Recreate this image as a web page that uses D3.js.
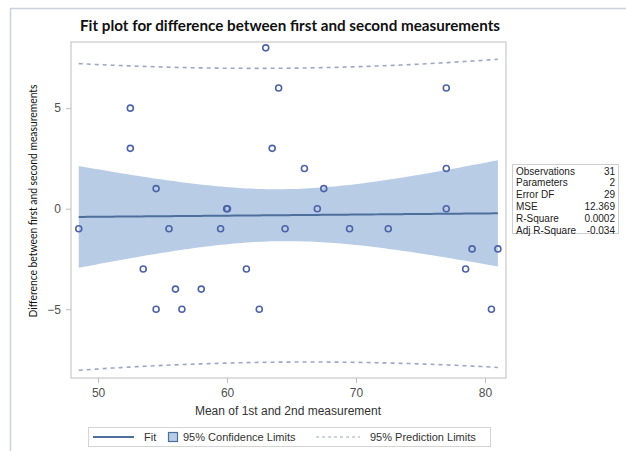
<!DOCTYPE html>
<html>
<head>
<meta charset="utf-8">
<script src="https://cdn.jsdelivr.net/npm/d3@7"></script>
<style>
  html, body { margin: 0; padding: 0; background: #fff; }
  svg { display: block; }
</style>
</head>
<body>
<svg id="chart" width="626" height="451"></svg>
<script>
// Observed pairs: mean of the two measurements (x) and their difference (y)
const meanValues = [63, 64, 52.5, 52.5, 63.5, 66, 54.5, 59.97, 60.03, 48.5, 55.5, 59.5, 64.5,
  53.5, 56, 58, 54.5, 56.5, 61.5, 62.5, 77, 77, 67.5, 67, 77, 69.5, 72.5, 79, 81, 78.5, 80.5];
const diffValues = [8, 6, 5, 3, 3, 2, 1, 0, 0, -1, -1, -1, -1,
  -3, -4, -4, -5, -5, -3, -5, 6, 2, 1, 0, 0, -1, -1, -2, -2, -3, -5];

const xTicks = [50, 60, 70, 80];
const yTicks = [-5, 0, 5];

// Fit statistics panel
const statLabels = ["Observations", "Parameters", "Error DF", "MSE", "R-Square", "Adj R-Square"];
const statValues = ["31", "2", "29", "12.369", "0.0002", "-0.034"];

const legendLabels = ["Fit", "95% Confidence Limits", "95% Prediction Limits"];

// Student t quantile, 0.975, 29 df
const tCrit = 2.04523;

const svg = d3.select("#chart");
const plot = { left: 71, top: 42, right: 506, bottom: 378 };

const x = d3.scaleLinear().domain([47.9, 81.63]).range([plot.left, plot.right]);
const y = d3.scaleLinear().domain([-8.42, 8.29]).range([plot.bottom, plot.top]);

// Least-squares fit
const n = meanValues.length;
const xbar = d3.mean(meanValues), ybar = d3.mean(diffValues);
let sxx = 0, sxy = 0;
meanValues.forEach((v, i) => { sxx += (v - xbar) ** 2; sxy += (v - xbar) * (diffValues[i] - ybar); });
const slope = sxy / sxx, intercept = ybar - slope * xbar;
let sse = 0;
meanValues.forEach((v, i) => { sse += (diffValues[i] - intercept - slope * v) ** 2; });
const mse = sse / (n - 2);

const [xmin, xmax] = d3.extent(meanValues);
const grid = d3.range(0, 101).map(k => xmin + (xmax - xmin) * k / 100);
const fitRows = grid.map(g => {
  const yhat = intercept + slope * g;
  const h = 1 / n + (g - xbar) ** 2 / sxx;
  const clm = tCrit * Math.sqrt(mse * h);
  const cli = tCrit * Math.sqrt(mse * (1 + h));
  return { x: g, yhat, lclm: yhat - clm, uclm: yhat + clm, lcl: yhat - cli, ucl: yhat + cli };
});

// Page frame lines
svg.append("line").attr("x1", 10).attr("x2", 626).attr("y1", 8.5).attr("y2", 8.5)
  .attr("stroke", "#c9d2de").attr("stroke-width", 1.5);
svg.append("line").attr("x1", 10.5).attr("x2", 10.5).attr("y1", 8).attr("y2", 451)
  .attr("stroke", "#c9d2de").attr("stroke-width", 1.5);

// Title
svg.append("text").attr("x", 290).attr("y", 31).attr("text-anchor", "middle")
  .attr("font-family", "Lato, 'Open Sans', sans-serif").attr("font-weight", "bold")
  .attr("font-size", 15).attr("fill", "#111")
  .attr("textLength", 420).attr("lengthAdjust", "spacingAndGlyphs")
  .text("Fit plot for difference between first and second measurements");

// Confidence band
svg.append("path").datum(fitRows)
  .attr("d", d3.area().x(d => x(d.x)).y0(d => y(d.lclm)).y1(d => y(d.uclm)))
  .attr("fill", "#b8cce6");

// Prediction limits
["lcl", "ucl"].forEach(k => {
  svg.append("path").datum(fitRows)
    .attr("d", d3.line().x(d => x(d.x)).y(d => y(d[k])))
    .attr("fill", "none").attr("stroke", "#9ea7c2").attr("stroke-width", 1.6)
    .attr("stroke-dasharray", "4,4");
});

// Fitted line
svg.append("path").datum(fitRows)
  .attr("d", d3.line().x(d => x(d.x)).y(d => y(d.yhat)))
  .attr("fill", "none").attr("stroke", "#4e6e9c").attr("stroke-width", 2);

// Observations
svg.append("g").selectAll("circle").data(meanValues).join("circle")
  .attr("cx", d => x(d)).attr("cy", (d, i) => y(diffValues[i])).attr("r", 3)
  .attr("fill", "none").attr("stroke", "#4d63a6").attr("stroke-width", 1.6);

// Plot frame
svg.append("rect").attr("x", plot.left).attr("y", plot.top)
  .attr("width", plot.right - plot.left).attr("height", plot.bottom - plot.top)
  .attr("fill", "none").attr("stroke", "#c8c8c8").attr("stroke-width", 1.2);

// Axes
const axisFont = "'Liberation Sans', Arial, sans-serif";
const xAxis = svg.append("g").attr("transform", `translate(0,${plot.bottom})`)
  .call(d3.axisBottom(x).tickValues(xTicks).tickSize(5).tickPadding(5));
const yAxis = svg.append("g").attr("transform", `translate(${plot.left},0)`)
  .call(d3.axisLeft(y).tickValues(yTicks).tickSize(5).tickPadding(5));
[xAxis, yAxis].forEach(a => {
  a.select(".domain").remove();
  a.selectAll(".tick line").attr("stroke", "#bdbdbd");
  a.selectAll(".tick text").attr("fill", "#505050").attr("font-size", 12)
    .attr("font-family", axisFont);
});

// Axis titles
svg.append("text").attr("x", 288).attr("y", 415).attr("text-anchor", "middle")
  .attr("font-family", axisFont).attr("font-size", 12).attr("fill", "#333")
  .text("Mean of 1st and 2nd measurement");
svg.append("text").attr("transform", "translate(37,201) rotate(-90)")
  .attr("text-anchor", "middle").attr("font-family", "Lato, 'Open Sans', sans-serif")
  .attr("font-size", 11.5).attr("fill", "#111")
  .attr("textLength", 233).attr("lengthAdjust", "spacingAndGlyphs")
  .text("Difference between first and second measurements");

// Statistics panel
const stats = svg.append("g");
stats.append("rect").attr("x", 512.5).attr("y", 164.5).attr("width", 106).attr("height", 69)
  .attr("fill", "#fff").attr("stroke", "#cfcfcf");
statLabels.forEach((lab, i) => {
  const yy = 171 + i * 11.85;
  stats.append("text").attr("x", 516).attr("y", yy).attr("dy", "0.35em")
    .attr("font-family", axisFont).attr("font-size", 10).attr("fill", "#222").text(lab);
  stats.append("text").attr("x", 615).attr("y", yy).attr("dy", "0.35em").attr("text-anchor", "end")
    .attr("font-family", axisFont).attr("font-size", 10).attr("fill", "#222").text(statValues[i]);
});

// Legend
const lg = svg.append("g");
lg.append("rect").attr("x", 88.5).attr("y", 427.5).attr("width", 402).attr("height", 19)
  .attr("fill", "#fff").attr("stroke", "#d4d4d4");
const ly = 437;
lg.append("line").attr("x1", 93).attr("x2", 134).attr("y1", ly).attr("y2", ly)
  .attr("stroke", "#4e6e9c").attr("stroke-width", 2);
lg.append("text").attr("x", 144).attr("y", ly).attr("dy", "0.35em")
  .attr("font-family", axisFont).attr("font-size", 11).attr("fill", "#333").text(legendLabels[0]);
lg.append("rect").attr("x", 168.5).attr("y", ly - 4.5).attr("width", 9).attr("height", 9)
  .attr("fill", "#b8cce6").attr("stroke", "#4e6e9c").attr("stroke-width", 1.2);
lg.append("text").attr("x", 183).attr("y", ly).attr("dy", "0.35em")
  .attr("font-family", axisFont).attr("font-size", 11).attr("fill", "#333").text(legendLabels[1]);
lg.append("line").attr("x1", 316).attr("x2", 360).attr("y1", ly).attr("y2", ly)
  .attr("stroke", "#9ea7c2").attr("stroke-width", 1.2).attr("stroke-dasharray", "3,3");
lg.append("text").attr("x", 370).attr("y", ly).attr("dy", "0.35em")
  .attr("font-family", axisFont).attr("font-size", 11).attr("fill", "#333").text(legendLabels[2]);
</script>
</body>
</html>
